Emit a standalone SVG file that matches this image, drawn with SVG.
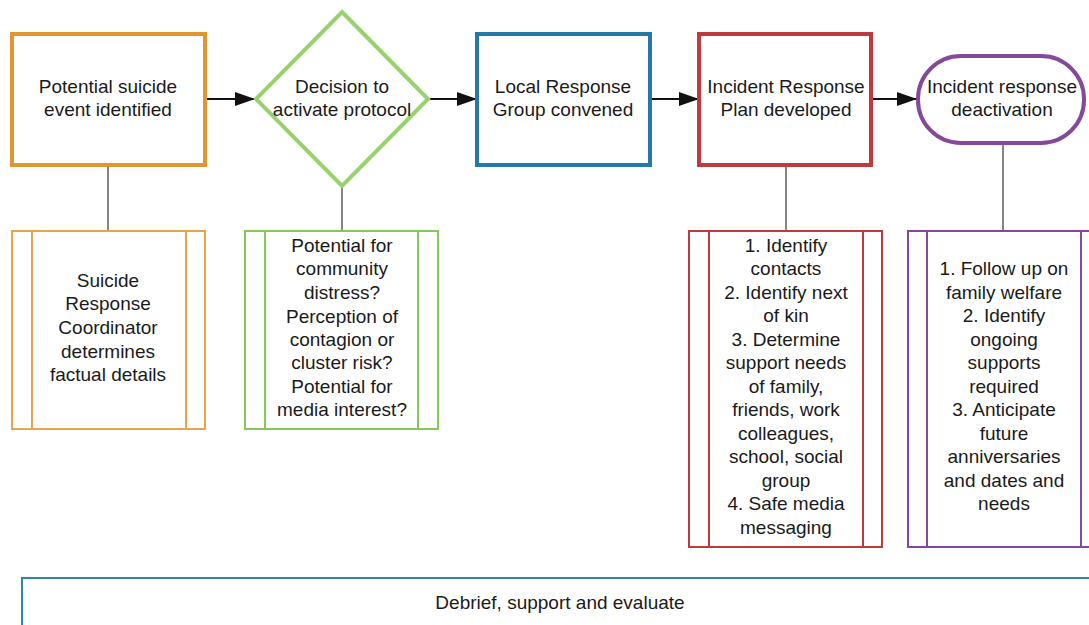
<svg xmlns="http://www.w3.org/2000/svg" width="1089" height="625" viewBox="0 0 1089 625">
<style>
text{font-family:"Liberation Sans",Arial,sans-serif;font-size:19px;fill:#1a1a1a;text-anchor:middle}
.main{fill:#fff;stroke-width:4}
.sub{fill:#fff;stroke-width:2}
.c{stroke:#333;stroke-width:1.2;fill:none}
.a{stroke:#111;stroke-width:1.8;fill:none}
</style>
<defs>
<marker id="ah2" viewBox="0 0 20 14" refX="20" refY="7" markerWidth="20" markerHeight="14" markerUnits="userSpaceOnUse" orient="auto"><path d="M0,0 L20,7 L0,14 z" fill="#111"/></marker>
</defs>
<rect x="0" y="0" width="1089" height="625" fill="#fff"/>
<g id="connectors">
<line class="a" x1="205" y1="99" x2="255" y2="99" marker-end="url(#ah2)"/>
<line class="a" x1="428" y1="99" x2="477" y2="99" marker-end="url(#ah2)"/>
<line class="a" x1="650" y1="99" x2="699" y2="99" marker-end="url(#ah2)"/>
<line class="a" x1="871" y1="99" x2="917" y2="99" marker-end="url(#ah2)"/>
<line class="c" x1="108" y1="165" x2="108" y2="230"/>
<line class="c" x1="342" y1="186" x2="342" y2="230"/>
<line class="c" x1="786" y1="165" x2="786" y2="230"/>
<line class="c" x1="1003" y1="143" x2="1003" y2="230"/>
</g>
<g id="n1">
<rect class="main" x="12" y="34" width="193" height="131" stroke="#e0952f"/>
<text x="108" y="93">Potential suicide</text>
<text x="108" y="116">event identified</text>
</g>
<g id="n2">
<polygon class="main" points="342,12 428,99 342,186 256,99" stroke="#97d26f"/>
<text x="342" y="93">Decision to</text>
<text x="342" y="116">activate protocol</text>
</g>
<g id="n3">
<rect class="main" x="477" y="34" width="173" height="131" stroke="#2479a8"/>
<text x="563" y="93">Local Response</text>
<text x="563" y="116">Group convened</text>
</g>
<g id="n4">
<rect class="main" x="699" y="34" width="172" height="131" stroke="#c0393f"/>
<text x="786" y="93">Incident Response</text>
<text x="786" y="116">Plan developed</text>
</g>
<g id="n5">
<rect class="main" x="918" y="56" width="166" height="87" rx="43" ry="43" stroke="#86489a"/>
<text x="1002" y="93">Incident response</text>
<text x="1002" y="116">deactivation</text>
</g>
<g id="s1">
<rect class="sub" x="12" y="231" width="193" height="198" stroke="#e5a54a"/>
<line x1="32" y1="231" x2="32" y2="429" stroke="#e5a54a" stroke-width="2"/>
<line x1="186" y1="231" x2="186" y2="429" stroke="#e5a54a" stroke-width="2"/>
<text x="108" y="287">Suicide</text>
<text x="108" y="310">Response</text>
<text x="108" y="334">Coordinator</text>
<text x="108" y="358">determines</text>
<text x="108" y="381">factual details</text>
</g>
<g id="s2">
<rect class="sub" x="245" y="231" width="193" height="198" stroke="#86c95a"/>
<line x1="265" y1="231" x2="265" y2="429" stroke="#86c95a" stroke-width="2"/>
<line x1="418" y1="231" x2="418" y2="429" stroke="#86c95a" stroke-width="2"/>
<text x="342" y="252">Potential for</text>
<text x="342" y="275">community</text>
<text x="342" y="299">distress?</text>
<text x="342" y="323">Perception of</text>
<text x="342" y="346">contagion or</text>
<text x="342" y="369">cluster risk?</text>
<text x="342" y="393">Potential for</text>
<text x="342" y="416">media interest?</text>
</g>
<g id="s3">
<rect class="sub" x="689" y="231" width="193" height="316" stroke="#c0393f"/>
<line x1="709" y1="231" x2="709" y2="547" stroke="#c0393f" stroke-width="2"/>
<line x1="863" y1="231" x2="863" y2="547" stroke="#c0393f" stroke-width="2"/>
<text x="786" y="252">1. Identify</text>
<text x="786" y="275">contacts</text>
<text x="786" y="299">2. Identify next</text>
<text x="786" y="322">of kin</text>
<text x="786" y="346">3. Determine</text>
<text x="786" y="369">support needs</text>
<text x="786" y="393">of family,</text>
<text x="786" y="416">friends, work</text>
<text x="786" y="440">colleagues,</text>
<text x="786" y="463">school, social</text>
<text x="786" y="487">group</text>
<text x="786" y="510">4. Safe media</text>
<text x="786" y="534">messaging</text>
</g>
<g id="s4">
<rect class="sub" x="908" y="231" width="200" height="316" stroke="#86489a"/>
<line x1="927" y1="231" x2="927" y2="547" stroke="#86489a" stroke-width="2"/>
<line x1="1081" y1="231" x2="1081" y2="547" stroke="#86489a" stroke-width="2"/>
<text x="1004" y="275">1. Follow up on</text>
<text x="1004" y="299">family welfare</text>
<text x="1004" y="322">2. Identify</text>
<text x="1004" y="346">ongoing</text>
<text x="1004" y="369">supports</text>
<text x="1004" y="393">required</text>
<text x="1004" y="416">3. Anticipate</text>
<text x="1004" y="440">future</text>
<text x="1004" y="463">anniversaries</text>
<text x="1004" y="487">and dates and</text>
<text x="1004" y="510">needs</text>
</g>
<g id="s5">
<rect class="sub" x="22" y="578" width="1090" height="60" stroke="#2f8a9f"/>
<text x="560" y="609">Debrief, support and evaluate</text>
</g>
</svg>
